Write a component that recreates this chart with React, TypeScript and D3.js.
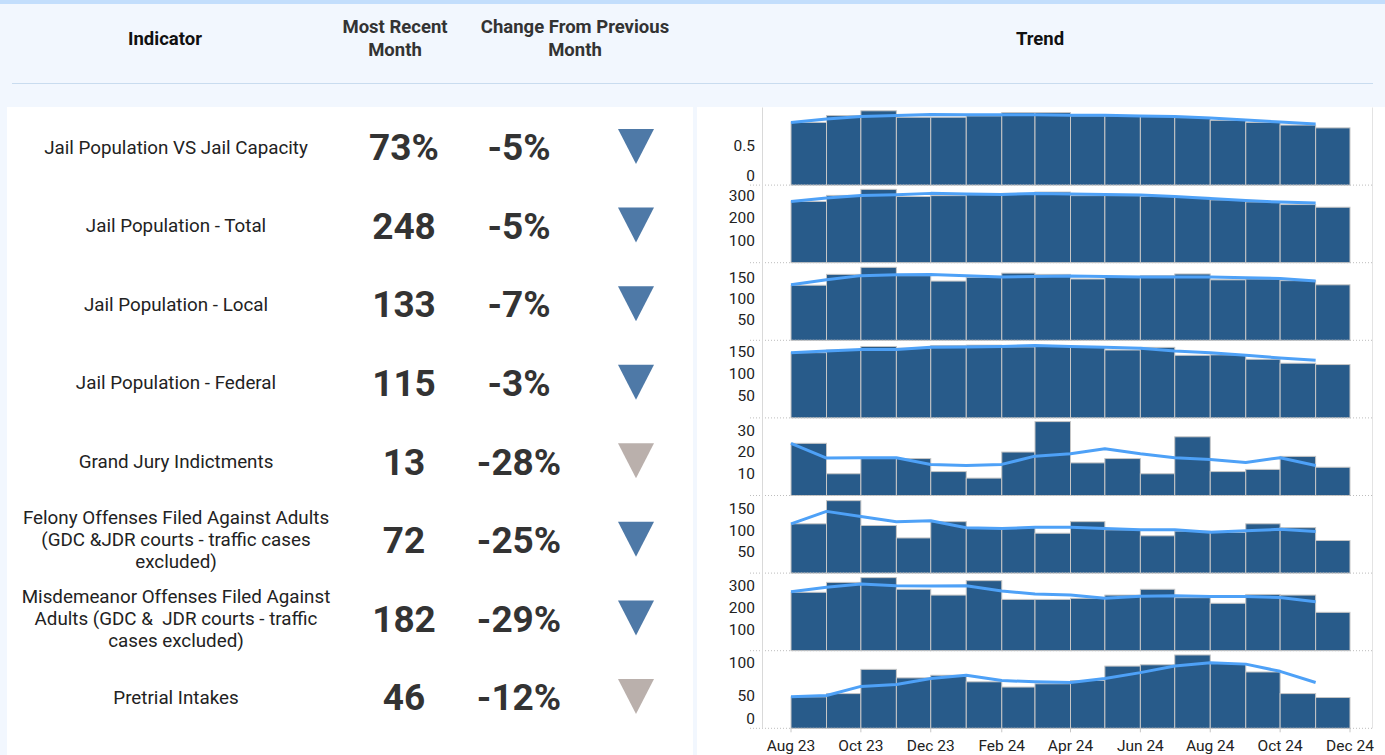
import React, { useEffect, useRef } from 'react';
import * as d3 from 'd3';

// months shown in the trend panels (bar = whole month, line point = month start)
const months = [
  '2023-08', '2023-09', '2023-10', '2023-11', '2023-12', '2024-01', '2024-02', '2024-03',
  '2024-04', '2024-05', '2024-06', '2024-07', '2024-08', '2024-09', '2024-10', '2024-11',
];
const xTickMonths = ['2023-08', '2023-10', '2023-12', '2024-02', '2024-04', '2024-06', '2024-08', '2024-10', '2024-12'];

const indicators = [
  ['Jail Population VS Jail Capacity'],
  ['Jail Population - Total'],
  ['Jail Population - Local'],
  ['Jail Population - Federal'],
  ['Grand Jury Indictments'],
  ['Felony Offenses Filed Against Adults', '(GDC &JDR courts - traffic cases', 'excluded)'],
  ['Misdemeanor Offenses Filed Against', 'Adults (GDC &  JDR courts - traffic', 'cases excluded)'],
  ['Pretrial Intakes'],
];
const recentValues = ['73%', '248', '133', '115', '13', '72', '182', '46'];
const changeValues = ['-5%', '-5%', '-7%', '-3%', '-28%', '-25%', '-29%', '-12%'];
const changeFlagged = [true, true, true, true, false, true, true, false];

const capacityBars = [0.8, 0.887, 0.948, 0.866, 0.866, 0.883, 0.926, 0.926, 0.883, 0.883, 0.874, 0.861, 0.827, 0.8, 0.766, 0.73];
const capacityTrend = [0.8, 0.844, 0.874, 0.887, 0.9, 0.896, 0.896, 0.896, 0.892, 0.892, 0.883, 0.874, 0.857, 0.831, 0.805, 0.779];

const totalBars = [274, 301, 328, 296, 300, 304, 310, 316, 300, 300, 296, 292, 281, 272, 260, 248];
const totalTrend = [274, 289, 301, 304, 310, 307, 305, 309, 307, 305, 303, 296, 287, 278, 271, 267];

const localBars = [132, 158, 175, 155, 142, 151, 161, 158, 147, 153, 155, 159, 145, 147, 143, 133];
const localTrend = [133, 145, 155, 157, 158, 155, 152, 153, 154, 153, 152, 152, 152, 150, 148, 142];

const federalBars = [148, 154, 162, 158, 164, 165, 161, 164, 161, 154, 160, 142, 143, 133, 124, 121];
const federalTrend = [148, 152, 155, 155, 160, 161, 162, 164, 162, 160, 158, 152, 148, 142, 136, 131];

const juryBars = [24, 10, 17, 17, 11, 8, 20, 34, 15, 17, 10, 27, 11, 12, 18, 13];
const juryTrend = [24, 17.2, 17.4, 17.4, 14.3, 13.8, 14.3, 18.1, 19.2, 21.5, 19.2, 17.4, 16.6, 15.2, 17.4, 13.8];

const felonyBars = [115, 169, 111, 82, 120, 106, 106, 93, 120, 101, 87, 98, 95, 115, 106, 76];
const felonyTrend = [115, 144, 132, 120, 122, 106, 104, 107, 107, 104, 101, 101, 95, 99, 102, 97];

const misdemeanorBars = [271, 317, 339, 285, 258, 325, 238, 238, 243, 258, 285, 246, 220, 261, 258, 178];
const misdemeanorTrend = [274, 294, 309, 301, 300, 301, 277, 263, 258, 243, 253, 255, 252, 252, 247, 227];

const pretrialBars = [48, 53, 90, 77, 81, 71, 63, 68, 73, 95, 97, 112, 99, 86, 53, 47];
const pretrialTrend = [48, 50, 64, 67, 76, 81, 73, 71, 70, 76, 85, 95, 100, 98, 87, 70];

const panelBars = [capacityBars, totalBars, localBars, federalBars, juryBars, felonyBars, misdemeanorBars, pretrialBars];
const panelTrends = [capacityTrend, totalTrend, localTrend, federalTrend, juryTrend, felonyTrend, misdemeanorTrend, pretrialTrend];
const yTicks = [[0, 0.5], [100, 200, 300], [50, 100, 150], [50, 100, 150], [10, 20, 30], [50, 100, 150], [100, 200, 300], [0, 50, 100]];
const yMax = [0.99, 347, 186, 176, 35.7, 181, 360, 118.5];

const App: React.FC = () => {
  const svgRef = useRef<SVGSVGElement>(null);
  const width = 1385;
  const height = 755;

  useEffect(() => {
    if (!svgRef.current) return;
    const svg = d3.select(svgRef.current);
    svg.selectAll('*').remove();

    const font = 'Roboto, "Noto Sans", sans-serif';
    const parse = d3.timeParse('%Y-%m');
    const dates = months.map((m) => parse(m) as Date);

    // background
    svg.append('rect').attr('width', width).attr('height', height).attr('fill', '#f2f7fe');
    svg.append('rect').attr('width', width).attr('height', 4).attr('fill', '#c3defc');

    // header
    const header = svg.append('g').style('font-family', font).style('font-weight', 700).style('font-size', '18.5px');
    header.append('text').attr('x', 165).attr('y', 45).attr('text-anchor', 'middle').attr('fill', '#111').text('Indicator');
    [['Most Recent', 'Month', 395], ['Change From Previous', 'Month', 575]].forEach(([a, b, x]) => {
      header.append('text').attr('x', x as number).attr('y', 33).attr('text-anchor', 'middle').attr('fill', '#333').text(a as string);
      header.append('text').attr('x', x as number).attr('y', 56).attr('text-anchor', 'middle').attr('fill', '#333').text(b as string);
    });
    header.append('text').attr('x', 1040).attr('y', 45).attr('text-anchor', 'middle').attr('fill', '#111').text('Trend');
    svg.append('line').attr('x1', 12).attr('x2', 1373).attr('y1', 83.5).attr('y2', 83.5).attr('stroke', '#c9dcef');

    // panels
    svg.append('rect').attr('x', 7).attr('y', 107).attr('width', 686).attr('height', height - 107).attr('fill', '#fff');
    svg.append('rect').attr('x', 697).attr('y', 107).attr('width', width - 697).attr('height', height - 107).attr('fill', '#fff');

    // table rows
    const rowY = d3.scaleLinear().domain([0, indicators.length - 1]).range([147, 697]);
    const table = svg.append('g').style('font-family', font);
    indicators.forEach((lines, i) => {
      const cy = rowY(i);
      const lh = 22;
      lines.forEach((line, j) => {
        table.append('text')
          .attr('x', 176)
          .attr('y', cy + (j - (lines.length - 1) / 2) * lh)
          .attr('dy', '0.35em')
          .attr('text-anchor', 'middle')
          .attr('fill', '#222')
          .style('font-size', '18.8px')
          .style('white-space', 'pre')
          .text(line);
      });
      table.append('text')
        .attr('x', 404).attr('y', cy).attr('dy', '0.36em')
        .attr('text-anchor', 'middle').attr('fill', '#333')
        .style('font-size', '37px').style('font-weight', 700)
        .text(recentValues[i]);
      table.append('text')
        .attr('x', 519).attr('y', cy).attr('dy', '0.36em')
        .attr('text-anchor', 'middle').attr('fill', '#333')
        .style('font-size', '37px').style('font-weight', 700)
        .text(changeValues[i]);
      table.append('path')
        .attr('d', `M${618},${cy - 18}L${654},${cy - 18}L${636},${cy + 17}Z`)
        .attr('fill', changeFlagged[i] ? '#4e79a7' : '#bab0ac');
    });

    // trend panels
    const axisX = 762;
    const rightEdge = 1372;
    const top = 107.5;
    const panelH = 77.6;
    const x = d3.scaleTime()
      .domain([dates[0], d3.timeMonth.offset(dates[dates.length - 1], 1)])
      .range([791, 1350]);

    const trend = svg.append('g').style('font-family', font);
    panelBars.forEach((bars, i) => {
      const y0 = top + i * panelH;
      const y1 = y0 + panelH;
      const y = d3.scaleLinear().domain([0, yMax[i]]).range([y1, y0]);
      const g = trend.append('g');

      g.selectAll('rect.bar')
        .data(bars)
        .join('rect')
        .attr('class', 'bar')
        .attr('x', (_, k) => x(dates[k]))
        .attr('width', (_, k) => x(d3.timeMonth.offset(dates[k], 1)) - x(dates[k]))
        .attr('y', (d) => y(d))
        .attr('height', (d) => y1 - y(d))
        .attr('fill', '#285b8a')
        .attr('stroke', '#c6c6c6')
        .attr('stroke-width', 1);

      const line = d3.line<number>()
        .x((_, k) => x(dates[k]))
        .y((d) => y(d));
      g.append('path')
        .attr('d', line(panelTrends[i]) as string)
        .attr('fill', 'none')
        .attr('stroke', '#4ea1f7')
        .attr('stroke-width', 3)
        .attr('stroke-linejoin', 'round');

      yTicks[i].forEach((t) => {
        g.append('text')
          .attr('x', 755)
          .attr('y', Math.min(y(t), y1 - 9.5))
          .attr('dy', '0.35em')
          .attr('text-anchor', 'end')
          .attr('fill', '#222')
          .style('font-size', '15.5px')
          .text(d3.format('~g')(t));
      });

      g.append('line')
        .attr('x1', 750).attr('x2', rightEdge)
        .attr('y1', y1).attr('y2', y1)
        .attr('stroke', '#bdbdbd')
        .attr('stroke-dasharray', '1,2');
    });

    // axis line and right border
    trend.append('line').attr('x1', axisX + 0.5).attr('x2', axisX + 0.5).attr('y1', top).attr('y2', top + 8 * panelH).attr('stroke', '#d9d9d9');
    trend.append('line').attr('x1', rightEdge + 0.5).attr('x2', rightEdge + 0.5).attr('y1', top).attr('y2', top + 8 * panelH).attr('stroke', '#e3e3e3');

    // x axis
    const tickDates = xTickMonths.map((m) => parse(m) as Date);
    const xAxis = trend.append('g').attr('transform', `translate(0,${top + 8 * panelH})`);
    xAxis.selectAll('line.tick')
      .data(tickDates)
      .join('line')
      .attr('class', 'tick')
      .attr('x1', (d) => x(d)).attr('x2', (d) => x(d))
      .attr('y1', 0).attr('y2', 4)
      .attr('stroke', '#c6c6c6');
    xAxis.selectAll('text')
      .data(tickDates)
      .join('text')
      .attr('x', (d) => x(d))
      .attr('y', 17)
      .attr('dy', '0.35em')
      .attr('text-anchor', 'middle')
      .attr('fill', '#222')
      .style('font-size', '15.5px')
      .text((d) => d3.timeFormat('%b %y')(d));
  }, []);

  return (
    <svg
      ref={svgRef}
      width={width}
      height={height}
      style={{ position: 'absolute', left: 0, top: 0, display: 'block' }}
    />
  );
};

export default App;
